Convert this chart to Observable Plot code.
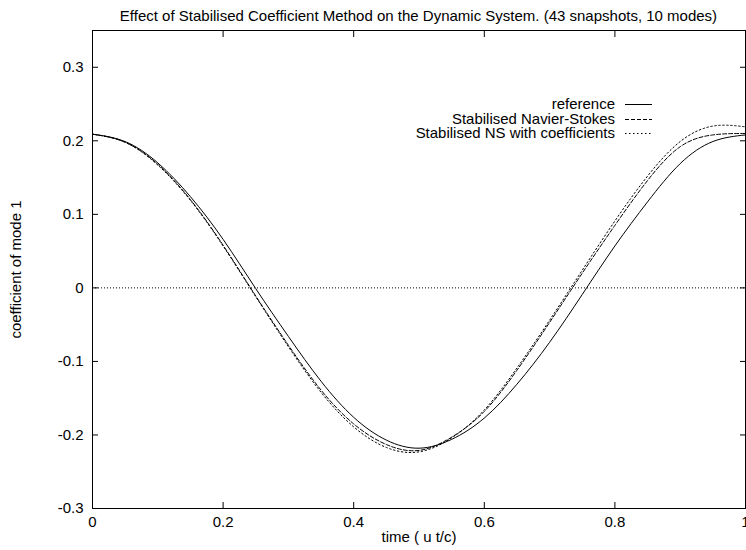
<!DOCTYPE html>
<html><head><meta charset="utf-8">
<script src="https://cdn.jsdelivr.net/npm/d3@7"></script>
<script src="https://cdn.jsdelivr.net/npm/@observablehq/plot@0.6"></script>
<style>
body{margin:0;background:#fff;}
#wrap{position:relative;width:746px;height:550px;font-family:"Liberation Sans",Arial,Helvetica,sans-serif;color:#000;}
#title{position:absolute;left:92px;width:653px;top:7px;text-align:center;font-size:15px;line-height:17px;white-space:nowrap;}
#legend{position:absolute;left:0;top:0;pointer-events:none;}
</style></head><body>
<div id="wrap"><div id="title"></div></div>
<script>
const titleText = "Effect of Stabilised Coefficient Method on the Dynamic System. (43 snapshots, 10 modes)";
const xLabel = "time ( u t/c)";
const yLabel = "coefficient of mode 1";
const seriesNames = ["reference", "Stabilised Navier-Stokes", "Stabilised NS with coefficients"];
const xTicks = [0, 0.2, 0.4, 0.6, 0.8, 1];
const yTicks = [-0.3, -0.2, -0.1, 0, 0.1, 0.2, 0.3];

const time       = [0, 0.05, 0.1, 0.15, 0.2, 0.25, 0.3, 0.35, 0.4, 0.45, 0.5, 0.55, 0.6, 0.65, 0.7, 0.75, 0.8, 0.85, 0.9, 0.95, 1.0];
const reference  = [0.209, 0.199, 0.170, 0.124, 0.066, -0.001, -0.066, -0.127, -0.176, -0.207, -0.218, -0.206, -0.177, -0.131, -0.074, -0.009, 0.057, 0.117, 0.169, 0.199, 0.208];
const stabNS     = [0.209, 0.198, 0.168, 0.120, 0.058, -0.011, -0.078, -0.139, -0.185, -0.213, -0.221, -0.203, -0.168, -0.112, -0.047, 0.020, 0.085, 0.146, 0.192, 0.208, 0.210];
const stabNSCoef = [0.209, 0.198, 0.167, 0.119, 0.057, -0.012, -0.080, -0.142, -0.189, -0.217, -0.223, -0.204, -0.166, -0.109, -0.044, 0.024, 0.091, 0.152, 0.199, 0.220, 0.219];

const dashes = [null, "4,2", "1.5,2.5"];
const allSeries = [reference, stabNS, stabNSCoef];
const fmt = d => String(Math.round(d * 10) / 10);
const font = '"Liberation Sans", Arial, Helvetica, sans-serif';

document.getElementById("title").textContent = titleText;

const lineMarks = allSeries.map((vals, i) =>
  Plot.line(vals.map((v, j) => ({t: time[j], v, s: seriesNames[i]})),
    {x: "t", y: "v", curve: "natural", stroke: "#000", strokeWidth: 1, strokeDasharray: dashes[i]}));

const plot = Plot.plot({
  width: 746, height: 550,
  marginLeft: 92, marginRight: 1, marginTop: 30, marginBottom: 42,
  style: {fontFamily: font, fontSize: "15px", color: "#000", background: "#fff", overflow: "visible"},
  x: {domain: [0, 1]},
  y: {domain: [-0.3, 0.35]},
  marks: [
    Plot.ruleY([0], {stroke: "#000", strokeDasharray: "1,2", strokeWidth: 1}),
    ...lineMarks,
    Plot.frame({stroke: "#000"}),
    Plot.axisX(xTicks, {anchor: "bottom", tickSize: -6, tickPadding: 14, tickFormat: fmt, fontSize: 15,
      label: xLabel, labelAnchor: "center", labelArrow: "none", labelOffset: 33}),
    Plot.axisX(xTicks, {anchor: "top", tickSize: -6, tickFormat: () => "", label: null}),
    Plot.axisY(yTicks, {anchor: "left", tickSize: -6, tickPadding: 15, tickFormat: fmt, fontSize: 15,
      label: yLabel, labelAnchor: "center", labelArrow: "none", labelOffset: 82}),
    Plot.axisY(yTicks, {anchor: "right", tickSize: -6, tickFormat: () => "", label: null})
  ]
});
document.getElementById("wrap").appendChild(plot);

// legend overlay
const lg = d3.select("#wrap").append("svg").attr("id", "legend").attr("width", 746).attr("height", 550)
  .style("font-family", font).style("font-size", "14px");
const legendRows = [104, 119, 133];
seriesNames.forEach((name, i) => {
  lg.append("g").attr("transform", `translate(615,${legendRows[i]}) scale(1.07,1)`)
    .append("text").attr("dy", "0.35em").attr("text-anchor", "end").text(name);
  lg.append("line").attr("x1", 625).attr("x2", 652).attr("y1", legendRows[i] + 0.5).attr("y2", legendRows[i] + 0.5)
    .attr("stroke", "#000").attr("stroke-width", 1).attr("stroke-dasharray", dashes[i]);
});
</script>
</body></html>
